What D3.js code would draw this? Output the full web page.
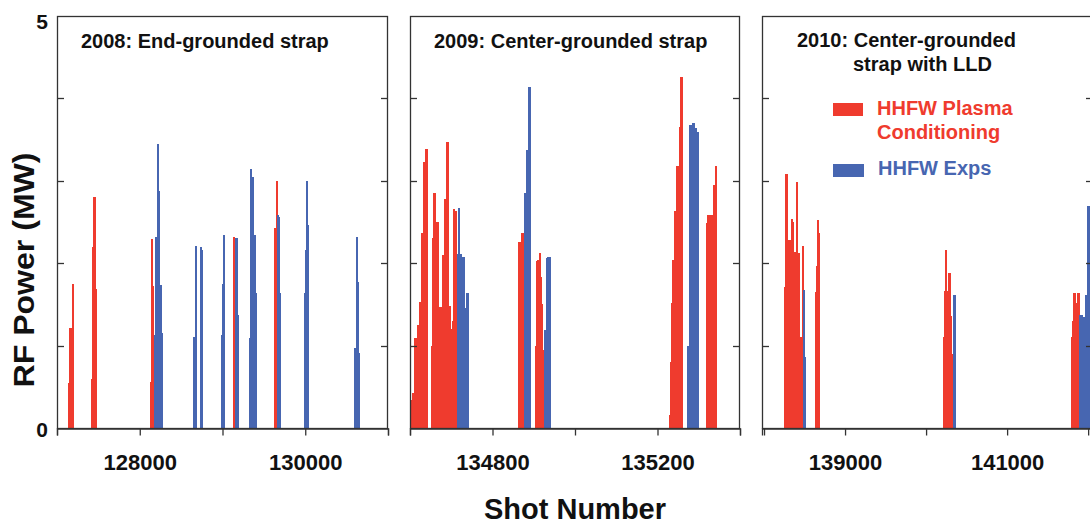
<!DOCTYPE html>
<html><head><meta charset="utf-8">
<script src="https://cdn.jsdelivr.net/npm/d3@7"></script>
<style>
body{margin:0;background:#fff}
svg{display:block}
text{font-family:"Liberation Sans",Arial,Helvetica,sans-serif;font-weight:bold}
</style>
</head><body>
<svg id="chart" width="1090" height="525"></svg>
<script>
// ---------------- data ----------------
const yTicks = [0, 1, 2, 3, 4, 5];
const yTickLabels = [0, 5];
const yLabel = "RF Power (MW)";
const xLabel = "Shot Number";
const seriesNames = ["HHFW Plasma Conditioning", "HHFW Exps"];

const titles = [["2008: End-grounded strap"], ["2009: Center-grounded strap"], ["2010: Center-grounded", "strap with LLD"]];

const p1Domain = [127000, 131000];
const p1Ticks = [127000, 128000, 129000, 130000, 131000];
const p1TickLabels = [128000, 130000];
const p1RedShots = [127133,127145,127157,127169,127181, 127411,127423,127435,127447,127459, 128123,128136,128148, 129126, 129621,129633,129645];
const p1RedMW    = [0.55,1.21,1.21,1.21,1.75, 0.6,2.2,2.8,2.8,1.69, 0.56,2.29,1.72, 2.32, 2.43,2.43,3.0];
const p1BlueShots = [128172,128184,128196,128208,128220, 128244,128256, 128643,128655,128667, 128727,128740, 128981,128993,129005, 129150,129162,129174, 129319,129331,129344,129356,129368,129380,129392, 129658,129670,129682, 129984,129996,130008,130020, 130588,130600,130612,130624,130636];
const p1BlueMW    = [1.13,2.32,2.32,3.45,2.88, 1.74,1.15, 1.1,1.1,2.21, 2.2,2.16, 1.13,1.75,2.34, 2.3,2.3,1.37, 1.09,3.14,3.05,3.05,2.34,2.34,1.64, 2.58,2.56,1.64, 1.64,2.16,3.0,2.46, 0.97,0.97,2.32,1.77,0.91];

const p2Domain = [134600, 135400];
const p2Ticks = [134600, 134800, 135000, 135200, 135400];
const p2TickLabels = [134800, 135200];
const p2RedShots = [134602,134605,134607,134610,134612,134615,134617,134619,134622,134624,134627,134629,134631,134634,134636,134639,
  134651,134653,134656,134658,134660,134663,134665,134668,134670,134673,134675,134677,134680,134682,134685,134687,134689,134692,134694,134697,134699,134702,134704,134706,134709,
  134861,134863,134866,134868,134871,134873,
  134902,134905,134907,134909,134912,134914,134917,134919,134921,
  135228,135231,135233,135236,135238,135240,135243,135245,135248,135250,135253,135255,135257,
  135318,135320,135323,135325,135328,135330,135332,135335,135337,135340];
const p2RedMW = [0.34,0.42,0.42,1.09,1.09,1.09,1.25,1.25,1.53,1.53,2.37,2.37,3.23,3.23,3.39,3.39,
  1.0,2.3,2.85,2.85,2.5,2.5,2.5,0.55,1.47,1.47,1.47,2.1,1.65,2.78,2.78,3.47,3.47,1.48,1.48,1.2,1.2,1.3,2.66,2.63,2.63,
  1.0,2.26,2.26,2.37,2.37,2.37,
  1.0,2.03,2.04,2.04,2.12,1.83,1.5,0.95,0.5,
  0.16,0.8,1.52,2.04,2.04,2.63,2.63,3.18,3.18,3.18,3.65,4.26,4.26,
  2.49,2.58,2.58,2.58,2.59,2.59,2.59,2.95,2.95,3.18];
const p2BlueShots = [134714,134716,134718,134721,134723,134726,134728,134731,134733,134735,134738,
  134876,134878,134880,134883,134885,134888,
  134924,134926,134929,134931,134934,134936,134938,
  135272,135274,135277,135279,135282,135284,135286,135289,135291,135294,135296];
const p2BlueMW = [2.11,2.67,2.11,2.11,2.08,2.08,2.08,1.46,1.46,1.64,1.64,
  2.85,2.85,3.37,3.37,4.14,4.14,
  1.15,1.19,2.06,2.08,2.08,2.08,2.08,
  1.0,1.0,3.68,3.68,3.68,3.70,3.70,3.64,3.64,3.59,3.59];

const p3Domain = [137975, 142060];
const p3Ticks = [138000, 139000, 140000, 141000, 142000];
const p3TickLabels = [139000, 141000];
const p3RedShots = [138246,138259,138271,138284,138296,138308,138320,138333,138345,138358,138370,138382,138395,138407,138419,138432,138444,138456,138469,
  138629,138641,138654,138666,
  140209,140221,140233,140246,140258,140270,140283,140295,140307,
  141788,141800,141813,141825,141837,141850,141862,141874];
const p3RedMW = [1.71,3.08,3.08,2.28,2.28,2.28,1.94,2.54,2.5,2.14,2.14,2.14,2.99,2.12,2.12,1.1,1.1,1.1,2.21,
  1.65,1.97,2.52,2.37,
  1.1,1.66,2.16,1.66,1.66,1.88,1.88,1.36,0.9,
  1.1,1.3,1.64,1.64,1.52,1.52,1.64,1.64];
const p3BlueShots = [138481,138493, 140332,140344,
  141887,141899,141911,141924,141936,141948,141961,141973,141985,141998,142010];
const p3BlueMW = [1.67,0.86, 1.61,1.61,
  1.37,1.37,1.37,1.23,1.35,1.35,1.61,1.61,2.7,2.7,2.2];

// ---------------- layout / style ----------------
const RED = "#ef3b2e", BLUE = "#4766b1", AX = "#333";
const panelX = [[57, 388], [410, 740], [762, 1093]];
const TOP = 16, BOT = 428;

const panels = [
  {domain: p1Domain, ticks: p1Ticks, labels: p1TickLabels, red: [p1RedShots, p1RedMW], blue: [p1BlueShots, p1BlueMW]},
  {domain: p2Domain, ticks: p2Ticks, labels: p2TickLabels, red: [p2RedShots, p2RedMW], blue: [p2BlueShots, p2BlueMW]},
  {domain: p3Domain, ticks: p3Ticks, labels: p3TickLabels, red: [p3RedShots, p3RedMW], blue: [p3BlueShots, p3BlueMW]}
];

const svg = d3.select("#chart");
const y = d3.scaleLinear().domain([0, 5]).range([BOT, TOP]);

panels.forEach((p, i) => {
  const [L, R] = panelX[i];
  const x = d3.scaleLinear().domain(p.domain).range([L, R]);
  const g = svg.append("g");

  [[p.red, RED], [p.blue, BLUE]].forEach(([ser, col]) => {
    const data = ser[0].map((s, k) => ({s, v: ser[1][k]}));
    g.append("g").attr("shape-rendering", "crispEdges")
      .selectAll("rect").data(data).join("rect")
      .attr("x", d => Math.round(x(d.s)))
      .attr("width", 2)
      .attr("y", d => y(d.v))
      .attr("height", d => y(0) - y(d.v))
      .attr("fill", col);
  });

  // frame
  g.append("rect").attr("x", L + 0.5).attr("y", TOP + 0.5)
    .attr("width", R - L - 1).attr("height", BOT - TOP)
    .attr("fill", "none").attr("stroke", AX).attr("stroke-width", 1.3);

  // inward y ticks (left and right)
  const inner = yTicks.filter(t => t > 0 && t < 5);
  g.selectAll("line.yl").data(inner).join("line")
    .attr("x1", L).attr("x2", L + 7).attr("y1", d => Math.round(y(d)) + 0.5).attr("y2", d => Math.round(y(d)) + 0.5)
    .attr("stroke", AX).attr("stroke-width", 1.3);
  g.selectAll("line.yr").data(inner).join("line")
    .attr("x1", R - 7).attr("x2", R).attr("y1", d => Math.round(y(d)) + 0.5).attr("y2", d => Math.round(y(d)) + 0.5)
    .attr("stroke", AX).attr("stroke-width", 1.3);

  // bottom axis
  const ax = d3.axisBottom(x).tickValues(p.ticks).tickSize(7).tickPadding(19)
    .tickFormat(d => p.labels.includes(d) ? String(d) : "");
  const axg = g.append("g").attr("transform", `translate(0,${BOT + 0.5})`).call(ax);
  axg.select(".domain").attr("stroke", AX).attr("stroke-width", 1.3);
  axg.selectAll(".tick line").attr("stroke", AX).attr("stroke-width", 1.3);
  axg.selectAll(".tick text").attr("fill", "#111")
    .style("font-size", "22px").style("font-family", '"Liberation Sans",Arial,sans-serif').style("font-weight", "bold");

  // title
  const tl = titles[i];
  if (tl.length === 1) {
    g.append("text").attr("x", L + 24).attr("y", 48).attr("font-size", 20).attr("fill", "#111").text(tl[0]);
  } else {
    g.append("text").attr("x", L + 35).attr("y", 47).attr("font-size", 20).attr("fill", "#111").text(tl[0]);
    g.append("text").attr("x", L + 91).attr("y", 71).attr("font-size", 20).attr("fill", "#111").text(tl[1]);
  }
});

// y tick labels (left panel only)
svg.selectAll("text.ylab").data(yTickLabels).join("text")
  .attr("x", 48).attr("y", d => y(d) + (d === 5 ? 12.5 : 8.5))
  .attr("text-anchor", "end").attr("font-size", 21).attr("fill", "#111")
  .text(d => String(d));

// axis titles
svg.append("text").attr("transform", "translate(34,270) rotate(-90)")
  .attr("text-anchor", "middle").attr("font-size", 29).attr("fill", "#111")
  .attr("textLength", 235).attr("lengthAdjust", "spacingAndGlyphs").text(yLabel);
svg.append("text").attr("x", 575).attr("y", 519)
  .attr("text-anchor", "middle").attr("font-size", 29).attr("fill", "#111")
  .attr("textLength", 182).attr("lengthAdjust", "spacingAndGlyphs").text(xLabel);

// legend (in third panel)
const leg = svg.append("g");
leg.append("rect").attr("x", 833).attr("y", 103).attr("width", 30).attr("height", 13).attr("fill", RED);
leg.append("text").attr("x", 877).attr("y", 115).attr("font-size", 20).attr("fill", RED).text("HHFW Plasma");
leg.append("text").attr("x", 877).attr("y", 139).attr("font-size", 20).attr("fill", RED).text("Conditioning");
leg.append("rect").attr("x", 833).attr("y", 164).attr("width", 31).attr("height", 13).attr("fill", BLUE);
leg.append("text").attr("x", 878).attr("y", 175).attr("font-size", 20).attr("fill", BLUE).text(seriesNames[1]);
</script>
</body></html>
